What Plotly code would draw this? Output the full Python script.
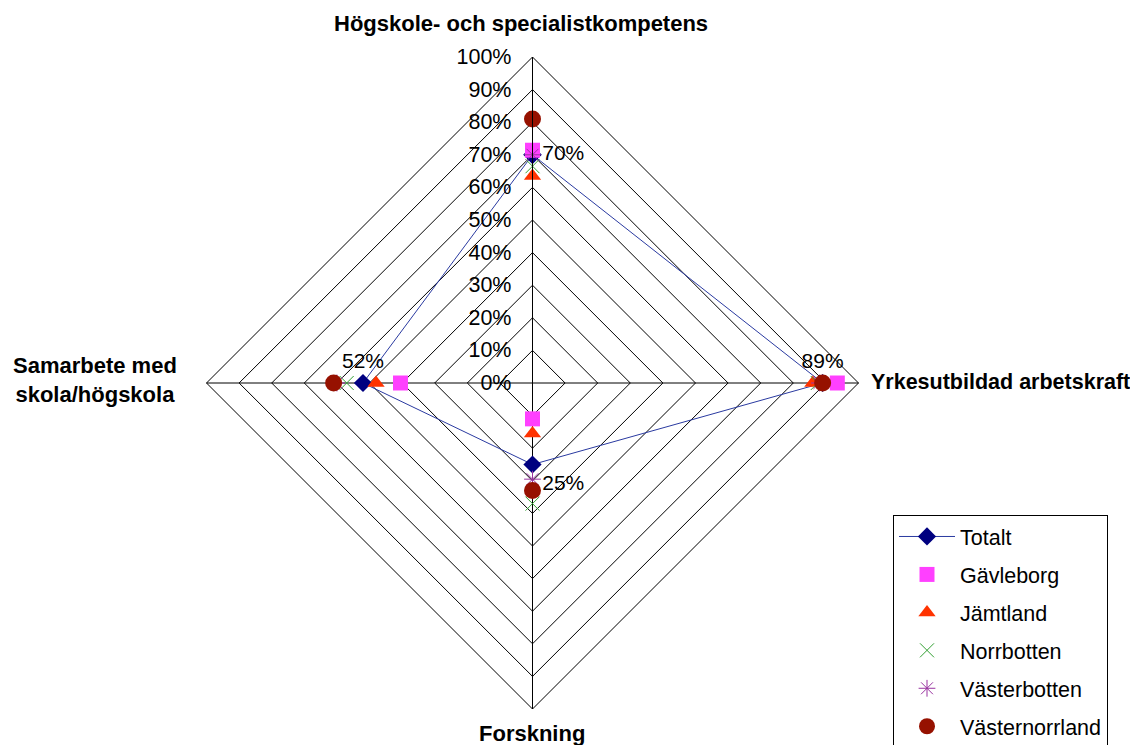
import plotly.graph_objects as go

categories = ["Högskole- och specialistkompetens", "Yrkesutbildad arbetskraft", "Forskning", "Samarbete med skola/högskola"]
category_labels = ["Högskole- och specialistkompetens", "Yrkesutbildad arbetskraft", "Forskning", "Samarbete med<br>skola/högskola"]

totalt = [0.70, 0.89, 0.25, 0.52]
gavleborg = [0.714, 0.935, 0.11, 0.405]
jamtland = [0.635, 0.86, 0.155, 0.48]
norrbotten = [0.665, 0.875, 0.37, 0.57]
vasterbotten = [0.70, 0.88, 0.295, 0.60]
vasternorrland = [0.81, 0.89, 0.33, 0.61]

radial_ticks = [i / 10 for i in range(11)]

FONT = "Arial, Liberation Sans, sans-serif"

def closed(v):
    return v + v[:1]

theta = closed(categories)

fig = go.Figure()

fig.add_trace(go.Scatterpolar(
    r=closed(totalt), theta=theta, name="Totalt",
    mode="lines+markers+text",
    line=dict(color="#2a3aa0", width=1),
    marker=dict(symbol="diamond", size=14, color="#000080"),
    text=[f"{v:.0%}" for v in totalt] + [""],
    textposition=["middle right", "top center", "bottom right", "top center", "middle right"],
    textfont=dict(family=FONT, size=21, color="black"),
    cliponaxis=False,
))

series = [
    ("Gävleborg", gavleborg, dict(symbol="square", size=15, color="#FF40FF")),
    ("Jämtland", jamtland, dict(symbol="triangle-up", size=15, color="#FF3300")),
    ("Norrbotten", norrbotten, dict(symbol="x-thin-open", size=14, color="#33A033", line=dict(width=1, color="#33A033"))),
    ("Västerbotten", vasterbotten, dict(symbol="asterisk-open", size=14, color="#9933A0", line=dict(width=1, color="#9933A0"))),
    ("Västernorrland", vasternorrland, dict(symbol="circle", size=17, color="#961100")),
]
for name, vals, mk in series:
    fig.add_trace(go.Scatterpolar(
        r=vals, theta=categories, name=name, mode="markers", marker=mk, cliponaxis=False,
    ))

# The page body adds an 8px offset; figure is taller than the window so the legend fits
W, H = 1138, 800
OFF = 8
cx, cy, R = 532.5, 383, 326


def px(X):
    return (X - OFF) / W


def py(Y):
    return 1 - (Y - OFF) / H


label_pos = [
    dict(x=px(521), y=py(23), xanchor="center", yanchor="middle", size=22),
    dict(x=px(869), y=py(382), xanchor="left", yanchor="middle", size=21.5),
    dict(x=px(532), y=py(733), xanchor="center", yanchor="middle", size=22),
    dict(x=px(95), y=py(380), xanchor="center", yanchor="middle", size=22),
]
annotations = []
for lab, pos in zip(category_labels, label_pos):
    pos = dict(pos)
    size = pos.pop("size")
    annotations.append(dict(text=lab, xref="paper", yref="paper", showarrow=False, align="center",
                            font=dict(family=FONT, size=size, color="black", weight="bold"), **pos))

fig.update_layout(
    width=W, height=H,
    margin=dict(l=0, r=0, t=0, b=0),
    paper_bgcolor="white",
    font=dict(family=FONT, size=21, color="black"),
    polar=dict(
        domain=dict(x=[px(cx - R), px(cx + R)], y=[py(cy + R), py(cy - R)]),
        gridshape="linear",
        bgcolor="white",
        angularaxis=dict(
            rotation=90, direction="clockwise",
            showline=True, linecolor="black", linewidth=1,
            gridcolor="black", gridwidth=1,
            ticks="", showticklabels=False,
        ),
        radialaxis=dict(
            range=[0, 1], tickvals=radial_ticks, tickformat=".0%",
            angle=90, side="counterclockwise", tickangle=90,
            showline=True, linecolor="black", linewidth=1,
            gridcolor="black", gridwidth=1,
            ticks="outside", ticklen=13, tickcolor="rgba(0,0,0,0)",
            tickfont=dict(family=FONT, size=21.5, color="black"),
        ),
    ),
    annotations=annotations,
    legend=dict(
        x=px(893), y=py(515), xanchor="left", yanchor="top",
        bordercolor="black", borderwidth=1, bgcolor="white",
        font=dict(family=FONT, size=21.5, color="black"),
        itemwidth=56, tracegroupgap=7,
    ),
    hovermode=False,
)
for i, tr in enumerate(fig.data):
    tr.legendgroup = f"g{i}"

fig.write_html("out.html")
